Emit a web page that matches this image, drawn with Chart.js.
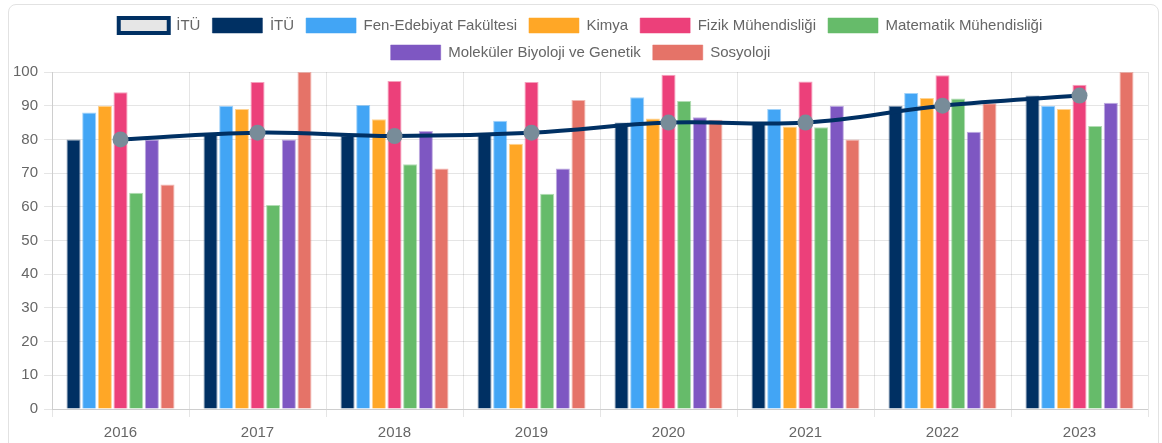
<!DOCTYPE html>
<html>
<head>
<meta charset="utf-8">
<script src="https://cdn.jsdelivr.net/npm/chart.js@4"></script>
<style>
    html, body { margin: 0; padding: 0; background: #fff; overflow: hidden; }
    .card {
        position: absolute; left: 8px; top: 4px; width: 1151px; height: 460px;
        border: 1px solid #e2e2e2; border-radius: 8px; box-sizing: border-box;
    }
    #wrap { position: absolute; left: 0; top: 0; width: 1156px; height: 450px; }
</style>
</head>
<body>
<div class="card"></div>
<div id="wrap"><canvas id="chart"></canvas></div>
<script>
// --- Data ---
const years = ['2016', '2017', '2018', '2019', '2020', '2021', '2022', '2023'];
const ituLine = [80, 82, 81, 82, 85, 85, 90, 93];
const ituBars = [80, 82, 81, 82, 85, 85, 90, 93];
const fenEdebiyat = [88, 90, 90.2, 85.5, 92.5, 89, 93.8, 90];
const kimya = [90, 89, 86, 78.7, 86.2, 83.8, 92.3, 89];
const fizik = [94, 97, 97.3, 97, 99.2, 97.2, 99, 96.2];
const matematik = [64.2, 60.5, 72.6, 63.9, 91.4, 83.6, 92.1, 84];
const molekuler = [80, 80, 82.5, 71.4, 86.6, 90, 82.3, 90.9];
const sosyoloji = [66.6, 100, 71.4, 91.7, 85.8, 80, 90.7, 100];
const yTicks = [0, 10, 20, 30, 40, 50, 60, 70, 80, 90, 100];

const navy = '#003063';

function barSet(label, data, color) {
    return {
        type: 'bar',
        label: label,
        data: data,
        backgroundColor: color,
        borderColor: color + '80',
        borderWidth: 1
    };
}

// a little extra room under the legend
const legendGap = {
    id: 'legendGap',
    beforeInit(chart) {
        const fit = chart.legend.fit;
        chart.legend.fit = function () {
            fit.call(this);
            this.height += 2;
        };
    }
};

Chart.defaults.font.family = '"Liberation Sans", Arial, Helvetica, sans-serif';
Chart.defaults.color = '#666';

const ctx = document.getElementById('chart').getContext('2d');
new Chart(ctx, {
    data: {
        labels: years,
        datasets: [
            {
                type: 'line',
                label: 'İTÜ',
                data: ituLine,
                borderColor: navy,
                backgroundColor: '#e6e6e6',
                borderWidth: 4,
                tension: 0.4,
                fill: false,
                pointRadius: 8,
                pointBackgroundColor: '#788c99',
                pointBorderColor: '#788c99',
                pointBorderWidth: 0
            },
            barSet('İTÜ', ituBars, navy),
            barSet('Fen-Edebiyat Fakültesi', fenEdebiyat, '#42a5f5'),
            barSet('Kimya', kimya, '#ffa726'),
            barSet('Fizik Mühendisliği', fizik, '#ec407a'),
            barSet('Matematik Mühendisliği', matematik, '#66bb6a'),
            barSet('Moleküler Biyoloji ve Genetik', molekuler, '#7e57c2'),
            barSet('Sosyoloji', sosyoloji, '#e57368')
        ]
    },
    options: {
        responsive: true,
        maintainAspectRatio: false,
        animation: false,
        layout: { padding: { left: 7, right: 2, top: 6, bottom: 1 } },
        plugins: {
            legend: {
                labels: {
                    boxWidth: 50,
                    boxHeight: 15,
                    padding: 12,
                    font: { size: 15 }
                }
            },
            tooltip: { enabled: false }
        },
        scales: {
            x: {
                ticks: { font: { size: 15 }, padding: 7 },
                grid: { color: 'rgba(0,0,0,0.1)' }
            },
            y: {
                min: 0,
                max: 100,
                afterBuildTicks: axis => { axis.ticks = yTicks.map(v => ({ value: v })); },
                ticks: { font: { size: 15 }, padding: 6 },
                grid: { color: 'rgba(0,0,0,0.1)' }
            }
        }
    },
    plugins: [legendGap]
});
</script>
</body>
</html>
